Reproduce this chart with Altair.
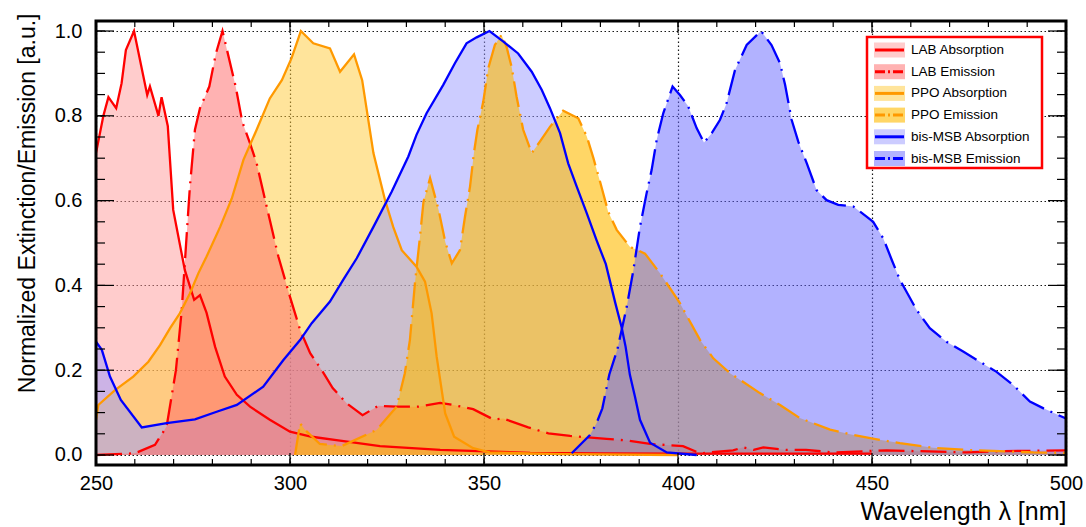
import altair as alt
import pandas as pd

# ---------------- data ----------------
lab_abs_x = [250, 251.9, 253.2, 255.2, 256.6, 257.7, 259.8, 263.2, 263.9, 266.1, 266.9, 268.5, 269.9,
             272.9, 275.3, 276.8, 278.5, 280.7, 283.2, 286.3, 289.7, 294.8, 300, 305.6, 312.9, 323.2,
             338.7, 361.9, 380, 400, 420, 450]
lab_abs_y = [0.712, 0.80, 0.844, 0.818, 0.877, 0.955, 1.0, 0.849, 0.869, 0.80, 0.844, 0.776, 0.578,
             0.436, 0.366, 0.377, 0.335, 0.255, 0.185, 0.142, 0.114, 0.083, 0.055, 0.043, 0.034, 0.021,
             0.012, 0.005, 0.004, 0.003, 0.003, 0.003]

lab_em_x = [250, 260, 265.2, 268.2, 270.6, 272.1, 273.4, 274.2, 275.5, 276.8, 279.2, 280.9, 282.6, 286,
            287.7, 289.7, 291.4, 294.8, 297, 300, 302.6, 305.2, 308.2, 311, 314.6, 318.7, 322.8, 327.5,
            333, 338.7, 342.1, 347.2, 352.4, 355, 361.4, 366.6, 372.2, 381.6, 387.2, 392.8, 401.3, 405.7,
            414.2, 416.8, 419.5, 422, 428, 433, 440, 453.8, 474.4, 483, 500]
lab_em_y = [0.0, 0.004, 0.024, 0.067, 0.2, 0.342, 0.523, 0.633, 0.767, 0.818, 0.869, 0.947, 1.0, 0.869,
            0.786, 0.735, 0.688, 0.554, 0.468, 0.373, 0.295, 0.24, 0.2, 0.158, 0.122, 0.094, 0.116, 0.114,
            0.114, 0.123, 0.118, 0.108, 0.084, 0.086, 0.065, 0.051, 0.045, 0.038, 0.034, 0.026, 0.021, 0.004,
            0.011, 0.018, 0.012, 0.018, 0.012, 0.012, 0.006, 0.011, 0.006, 0.009, 0.011]

ppo_abs_x = [250, 250.6, 254.9, 259.6, 263.5, 266.5, 269.1, 271.6, 274.2, 276.4, 278.5, 282, 285, 288,
             291.4, 294.8, 297.9, 300.4, 302.8, 306, 310.3, 312.9, 316.5, 318.6, 321.5, 324.5, 326.6,
             328.8, 332.6, 334.8, 336.5, 337.8, 340, 342.3, 347.2, 351.5, 370, 400]
ppo_abs_y = [0.083, 0.118, 0.153, 0.185, 0.22, 0.259, 0.299, 0.334, 0.381, 0.429, 0.468, 0.538, 0.605,
             0.696, 0.767, 0.841, 0.884, 0.936, 1.0, 0.971, 0.959, 0.904, 0.945, 0.884, 0.712, 0.601,
             0.538, 0.483, 0.444, 0.409, 0.334, 0.232, 0.098, 0.043, 0.016, 0.006, 0.002, 0.0]

ppo_em_x = [301.3, 302.6, 303.9, 307.7, 313.3, 322.3, 327.5, 329.6, 330.9, 332.2, 333.5, 334.4, 336.1,
            338.3, 340, 341.7, 343.8, 345.1, 346.4, 347.4, 348.3, 349.8, 351.1, 352.8, 354.5, 355.8,
            357.1, 358.4, 360.1, 362.3, 364.4, 367, 370.4, 374.3, 376.5, 378.2, 379.9, 382, 384.2, 387.6,
            391.5, 395.4, 400.5, 405.7, 409.1, 413.4, 421.1, 426.3, 431.4, 439.2, 444.3, 449.9, 457.2,
            465.8, 474.4, 483, 491.6, 500]
ppo_em_y = [0.0, 0.075, 0.059, 0.026, 0.021, 0.059, 0.114, 0.193, 0.271, 0.405, 0.515, 0.597, 0.653,
            0.578, 0.503, 0.452, 0.483, 0.562, 0.633, 0.712, 0.767, 0.833, 0.912, 0.967, 0.991, 0.963,
            0.916, 0.845, 0.767, 0.712, 0.739, 0.774, 0.812, 0.794, 0.751, 0.700, 0.645, 0.574, 0.531,
            0.491, 0.475, 0.428, 0.358, 0.271, 0.228, 0.193, 0.146, 0.118, 0.087, 0.060, 0.049, 0.039,
            0.028, 0.017, 0.012, 0.009, 0.006, 0.005]

bis_abs_x = [250, 251.5, 253.6, 256.4, 261.8, 268.2, 275.5, 281.1, 286.3, 293.1, 298.3, 302.6, 305.6,
             310.3, 313.7, 317.2, 321.5, 326.2, 330.5, 332.6, 335.2, 339.5, 342.5, 345.5, 348.1, 351.4,
             355, 358.8, 362.3, 364.9, 367, 369.6, 371.7, 373.9, 376.5, 379, 381.4, 383.8, 385.5, 386.5,
             387.6, 388.9, 390.2, 392.8, 397.1, 404.8]
bis_abs_y = [0.267, 0.248, 0.185, 0.13, 0.065, 0.075, 0.084, 0.102, 0.118, 0.161, 0.224, 0.271, 0.311,
             0.362, 0.413, 0.464, 0.538, 0.621, 0.704, 0.755, 0.806, 0.873, 0.924, 0.971, 0.985, 1.0,
             0.975, 0.947, 0.904, 0.861, 0.818, 0.759, 0.688, 0.633, 0.57, 0.507, 0.45, 0.36, 0.30, 0.255,
             0.189, 0.138, 0.083, 0.029, 0.006, 0.0]

bis_em_x = [372.6, 377.3, 379, 380.5, 382.3, 384.4, 386.8, 388.5, 390.2, 391.9, 393.2, 394.5, 396.2,
            398.6, 400.5, 402.6, 404.8, 406.7, 408.7, 410.8, 412.5, 414.7, 417.7, 421.4, 424.1, 426.3,
            427.6, 429.3, 431, 433.2, 435.7, 438.3, 441.3, 445.2, 448.6, 450.3, 452.9, 455.1, 457.2,
            461.5, 464.9, 469.2, 473.5, 477.8, 482.1, 486.4, 490.7, 494.2, 500]
bis_em_y = [0.004, 0.047, 0.075, 0.11, 0.19, 0.25, 0.35, 0.436, 0.538, 0.617, 0.672, 0.743, 0.806,
            0.869, 0.849, 0.823, 0.771, 0.737, 0.759, 0.79, 0.829, 0.908, 0.967, 1.0, 0.967, 0.924,
            0.873, 0.79, 0.739, 0.688, 0.625, 0.601, 0.59, 0.586, 0.562, 0.55, 0.511, 0.46, 0.413,
            0.342, 0.299, 0.267, 0.244, 0.22, 0.196, 0.165, 0.126, 0.110, 0.086]

series_names = ["LAB Absorption", "LAB Emission", "PPO Absorption", "PPO Emission",
                "bis-MSB Absorption", "bis-MSB Emission"]
series_x = [lab_abs_x, lab_em_x, ppo_abs_x, ppo_em_x, bis_abs_x, bis_em_x]
series_y = [lab_abs_y, lab_em_y, ppo_abs_y, ppo_em_y, bis_abs_y, bis_em_y]
line_colors = ["#ff0000", "#ff0000", "#ff9900", "#ff9900", "#0000ff", "#0000ff"]
fill_colors = ["#ff9999", "#ff6666", "#ffc937", "#ffba00", "#9999ff", "#6666ff"]
fill_opacity = [0.5, 0.5, 0.5, 0.6, 0.5, 0.5]
is_emission = [False, True, False, True, False, True]
fill_order = [0, 2, 4, 1, 3, 5]

x_tick_labels = [250, 300, 350, 400, 450, 500]
y_tick_labels = [0.0, 0.2, 0.4, 0.6, 0.8, 1.0]
x_minor = list(range(250, 501, 10))
y_minor = [i * 0.05 for i in range(0, 21)]

# ---------------- layout ----------------
W, H = 970, 444
FONT = "Liberation Sans"
DASHDOT = [26, 7, 2, 7]

xs = alt.Scale(domain=[250, 500], nice=False, zero=False)
ys = alt.Scale(domain=[-0.0236, 1.0236], nice=False, zero=False)

xaxis = alt.Axis(values=x_tick_labels, format="d", title="Wavelength λ [nm]",
                 grid=True, gridColor="black", gridDash=[1.5, 2.5], gridWidth=1.2, gridOpacity=0.9,
                 ticks=False, domain=False, labelFlush=False,
                 labelFont=FONT, labelFontSize=20, labelColor="black", labelPadding=8,
                 titleFont=FONT, titleFontSize=25, titleFontWeight="normal", titleColor="black",
                 titleX=W, titleY=54, titleAlign="right", titleBaseline="alphabetic")
yaxis = alt.Axis(values=y_tick_labels, format=".1f", title="Normalized Extinction/Emission [a.u.]",
                 grid=True, gridColor="black", gridDash=[1.5, 2.5], gridWidth=1.2, gridOpacity=0.9,
                 ticks=False, domain=False, labelFlush=False,
                 labelFont=FONT, labelFontSize=20, labelColor="black", labelPadding=14,
                 titleFont=FONT, titleFontSize=23, titleFontWeight="normal", titleColor="black",
                 titleAngle=270, titleX=-62, titleY=-8, titleAlign="right", titleBaseline="alphabetic")

X = alt.X("x:Q", scale=xs, axis=xaxis)
Y = alt.Y("y:Q", scale=ys, axis=yaxis)

frames = [pd.DataFrame({"x": series_x[i], "y": series_y[i]}) for i in range(6)]

layers = []
# all fills first
for i in fill_order:
    layers.append(alt.Chart(frames[i]).mark_area(color=fill_colors[i], fillOpacity=fill_opacity[i],
                                                  strokeWidth=0, clip=True)
                  .encode(x=X, y=Y, y2=alt.datum(0)))
# then all lines
for i in range(6):
    lkw = dict(color=line_colors[i], strokeWidth=2.3, clip=True)
    if is_emission[i]:
        lkw["strokeDash"] = DASHDOT
    layers.append(alt.Chart(frames[i]).mark_line(**lkw).encode(x=X, y=Y))

# inward ticks on all four sides
xt_major = pd.DataFrame({"x": x_tick_labels})
xt_minor = pd.DataFrame({"x": x_minor})
yt_major = pd.DataFrame({"y": y_tick_labels})
yt_minor = pd.DataFrame({"y": y_minor})
tick_kw = dict(color="black", strokeWidth=1.2)
for d, ln in [(xt_major, 12), (xt_minor, 6)]:
    layers.append(alt.Chart(d).mark_rule(**tick_kw).encode(x=X, y=alt.value(H), y2=alt.value(H - ln)))
    layers.append(alt.Chart(d).mark_rule(**tick_kw).encode(x=X, y=alt.value(0), y2=alt.value(ln)))
for d, ln in [(yt_major, 18), (yt_minor, 9)]:
    layers.append(alt.Chart(d).mark_rule(**tick_kw).encode(y=Y, x=alt.value(0), x2=alt.value(ln)))
    layers.append(alt.Chart(d).mark_rule(**tick_kw).encode(y=Y, x=alt.value(W), x2=alt.value(W - ln)))

one = pd.DataFrame({"a": [0]})
# frame
layers.append(alt.Chart(one).mark_rect(filled=False, stroke="black", strokeWidth=3).encode(
    x=alt.value(0), x2=alt.value(W), y=alt.value(0), y2=alt.value(H)))

# legend box
LX0, LX1, LY0, LY1 = 771, 946, 16, 147
layers.append(alt.Chart(one).mark_rect(fill="white", stroke="#ff0000", strokeWidth=2.5).encode(
    x=alt.value(LX0), x2=alt.value(LX1), y=alt.value(LY0), y2=alt.value(LY1)))
for i, name in enumerate(series_names):
    ry = 29 + i * 21.7
    ldf = pd.DataFrame({"label": [name]})
    lc = alt.Chart(ldf)
    layers.append(lc.mark_rect(color=fill_colors[i], fillOpacity=fill_opacity[i], strokeWidth=0).encode(
        x=alt.value(778), x2=alt.value(809), y=alt.value(ry - 7.5), y2=alt.value(ry + 7.5)))
    rkw = dict(color=line_colors[i], strokeWidth=3)
    if is_emission[i]:
        rkw["strokeDash"] = [10, 3, 2, 3]
    layers.append(lc.mark_rule(**rkw).encode(x=alt.value(779), x2=alt.value(808), y=alt.value(ry)))
    layers.append(lc.mark_text(align="left", baseline="middle", font=FONT, fontSize=13.5,
                               color="black").encode(x=alt.value(815), y=alt.value(ry), text="label:N"))

chart = alt.layer(*layers).properties(
    width=W, height=H,
    padding={"left": 96, "top": 21, "right": 20, "bottom": 62},
    autosize=alt.AutoSizeParams(type="none"),
    background="white",
).configure_view(stroke=None)

chart.save("out.html", embed_options={"renderer": "svg", "actions": False})
